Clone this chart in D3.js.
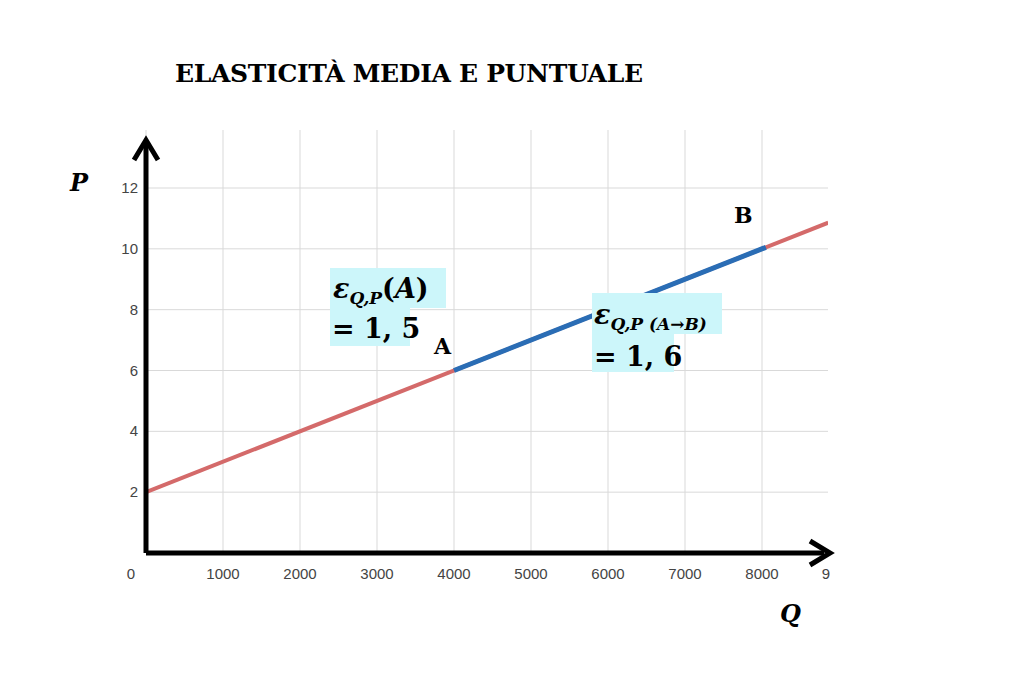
<!DOCTYPE html><html><head><meta charset="utf-8"><script src="https://cdn.jsdelivr.net/npm/d3@7"></script>
<style>body{margin:0;background:#fff}</style></head><body><svg id="c" width="1024" height="696"></svg>
<script>
const xTicks=[0,1000,2000,3000,4000,5000,6000,7000,8000,9000];
const yTicks=[2,4,6,8,10,12];
const demandQ=[0,8860];
const demandP=[2,10.86];
const arcQ=[4000,8050];
const arcP=[6,10.05];
const points=[{name:"A",q:4000,p:6},{name:"B",q:8000,p:10}];
const svg=d3.select("#c");
const x=d3.scaleLinear().domain([0,9000]).range([146,839]);
const y=d3.scaleLinear().domain([0,12]).range([553,188]);
const gx0=146,gx1=828,gy0=130;
const g=svg.append("g");
xTicks.forEach(t=>{if(x(t)<=gx1)g.append("line").attr("x1",x(t)).attr("x2",x(t)).attr("y1",gy0).attr("y2",553).attr("stroke","#d9d9d9");});
yTicks.forEach(t=>g.append("line").attr("x1",gx0).attr("x2",gx1).attr("y1",y(t)).attr("y2",y(t)).attr("stroke","#d9d9d9"));
xTicks.forEach(t=>g.append("text").attr("x",t===0?131:(t===9000?826:x(t))).attr("y",579).attr("text-anchor","middle").attr("font-family","Liberation Sans, Arial").attr("font-size",15).attr("fill","#444").text(t===9000?"9":t));
yTicks.forEach(t=>g.append("text").attr("x",138).attr("y",y(t)+5).attr("text-anchor","end").attr("font-family","Liberation Sans, Arial").attr("font-size",15).attr("fill","#444").text(t));
const ln=d3.line().x(d=>x(d[0])).y(d=>y(d[1]));
svg.append("clipPath").attr("id","cl").append("rect").attr("x",gx0).attr("y",gy0).attr("width",gx1-gx0).attr("height",553-gy0);
svg.append("path").attr("d",ln(demandQ.map((q,i)=>[q,demandP[i]]))).attr("stroke","#d46a6a").attr("stroke-width",4).attr("fill","none").attr("clip-path","url(#cl)");
svg.append("path").attr("d",ln(arcQ.map((q,i)=>[q,arcP[i]]))).attr("stroke","#2a6db5").attr("stroke-width",5).attr("fill","none");
svg.append("line").attr("x1",146).attr("x2",146).attr("y1",553).attr("y2",142).attr("stroke","#000").attr("stroke-width",5);
svg.append("line").attr("x1",146).attr("x2",824).attr("y1",553).attr("y2",553).attr("stroke","#000").attr("stroke-width",5);
svg.append("path").attr("d","M134,160 L146,140 L158,160").attr("stroke","#000").attr("stroke-width",5).attr("fill","none");
svg.append("path").attr("d","M810,541 L830,553 L810,565").attr("stroke","#000").attr("stroke-width",5).attr("fill","none");
const serif="DejaVu Serif, Liberation Serif, serif";
svg.append("text").attr("x",175).attr("y",82).attr("font-family",serif).attr("font-weight","bold").attr("font-size",25).attr("textLength",468).text("ELASTICITÀ MEDIA E PUNTUALE");
svg.append("text").attr("x",70).attr("y",191).attr("font-family",serif).attr("font-weight","bold").attr("font-style","italic").attr("font-size",24).text("P");
svg.append("text").attr("x",780).attr("y",622).attr("font-family",serif).attr("font-weight","bold").attr("font-style","italic").attr("font-size",24).text("Q");
// point labels
svg.append("text").attr("x",x(points[0].q)-20).attr("y",y(points[0].p)-17).attr("font-family",serif).attr("font-weight","bold").attr("font-size",22).text(points[0].name);
svg.append("text").attr("x",x(points[1].q)-28).attr("y",y(points[1].p)-26).attr("font-family",serif).attr("font-weight","bold").attr("font-size",22).text(points[1].name);
const bg="#ccf6fa";
[[330,268,116,40],[330,308,80,38],[592,293,130,41],[592,334,82,38]].forEach(r=>svg.append("rect").attr("x",r[0]).attr("y",r[1]).attr("width",r[2]).attr("height",r[3]).attr("fill",bg));
function eps(x0,y0,sub){
  const t=svg.append("text").attr("x",x0).attr("y",y0).attr("font-family",serif).attr("font-weight","bold").attr("font-size",27);
  t.append("tspan").attr("font-style","italic").text("ε");
  t.append("tspan").attr("font-style","italic").attr("font-size",17).attr("dy",6).text("Q,P");
  return t;
}
const t1=eps(333,298);
t1.append("tspan").attr("dy",-6).text("(");
t1.append("tspan").attr("font-style","italic").text("A");
t1.append("tspan").text(")");
svg.append("text").attr("x",332).attr("y",338).attr("font-family",serif).attr("font-weight","bold").attr("font-size",27).text("= 1, 5");
const t2=eps(594,324);
t2.append("tspan").attr("font-style","italic").attr("font-size",17).text(" (A→B)");
svg.append("text").attr("x",594).attr("y",366).attr("font-family",serif).attr("font-weight","bold").attr("font-size",27).text("= 1, 6");
</script></body></html>
